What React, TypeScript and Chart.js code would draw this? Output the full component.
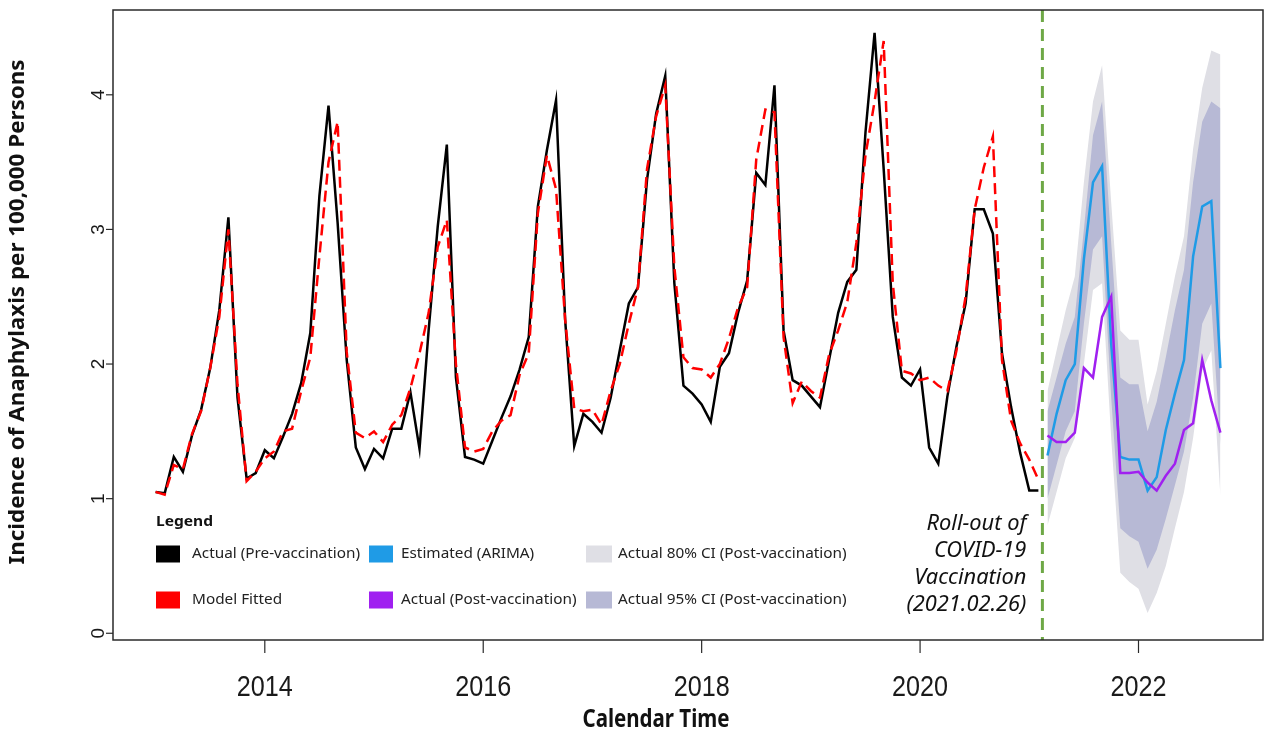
import React, { useEffect, useRef } from "react";
import { Chart, registerables } from "chart.js";

Chart.register(...registerables);

// ---- axis / time constants ----
const PRE_START_YEAR = 2013; // Jan 2013, monthly
const POST_START_YEAR = 2021 + 2 / 12; // Mar 2021, monthly
const ROLLOUT_X = 2021.12; // 2021.02.26 marker
const X_MIN = 2012.61;
const X_MAX = 2023.14;
const Y_MIN = -0.05;
const Y_MAX = 4.63;

const xTicks = [2014, 2016, 2018, 2020, 2022];
const yTicks = [0, 1, 2, 3, 4];

// ---- series (per 100,000 persons) ----
const actualPre = [
  1.05, 1.04, 1.31, 1.2, 1.47, 1.66, 1.97, 2.4, 3.09, 1.75, 1.15, 1.19,
  1.36, 1.3, 1.46, 1.63, 1.86, 2.23, 3.25, 3.92, 3.05, 2.03, 1.38, 1.22,
  1.37, 1.3, 1.52, 1.52, 1.79, 1.37, 2.25, 3.02, 3.63, 1.9, 1.31, 1.29,
  1.26, 1.43, 1.6, 1.76, 1.96, 2.2, 3.17, 3.59, 3.96, 2.33, 1.39, 1.63,
  1.57, 1.49, 1.75, 2.1, 2.45, 2.57, 3.37, 3.86, 4.14, 2.6, 1.84, 1.78,
  1.7, 1.57, 1.98, 2.08, 2.38, 2.62, 3.42, 3.33, 4.07, 2.25, 1.88, 1.84,
  1.76, 1.68, 2.03, 2.38, 2.61, 2.7, 3.72, 4.46, 3.45, 2.35, 1.9, 1.84,
  1.96, 1.38, 1.26, 1.76, 2.13, 2.45, 3.15, 3.15, 2.97, 2.08, 1.68, 1.34,
  1.06, 1.06,
];

const modelFitted = [
  1.05, 1.03, 1.25, 1.22, 1.48, 1.65, 1.97, 2.35, 3.0, 1.85, 1.13, 1.2,
  1.3, 1.35, 1.5, 1.52, 1.8, 2.05, 2.8, 3.5, 3.8, 2.09, 1.49, 1.45,
  1.5, 1.42, 1.55, 1.62, 1.82, 2.08, 2.38, 2.87, 3.07, 2.0, 1.38, 1.35,
  1.37, 1.5, 1.58, 1.62, 1.92, 2.08, 3.12, 3.55, 3.3, 2.33, 1.67, 1.65,
  1.66, 1.55, 1.8, 2.0, 2.3, 2.57, 3.45, 3.84, 4.07, 2.72, 2.05, 1.97,
  1.96, 1.9, 2.0, 2.19, 2.42, 2.57, 3.52, 3.89, 3.87, 2.2, 1.71, 1.87,
  1.8, 1.75, 2.07, 2.25, 2.46, 2.9, 3.55, 3.95, 4.4, 2.6, 1.95, 1.93,
  1.88, 1.9, 1.84, 1.8, 2.1, 2.5, 3.15, 3.46, 3.69, 2.03, 1.58, 1.41,
  1.29, 1.14,
];

const estimatedArima = [
  1.32, 1.63, 1.88, 2.0, 2.78, 3.35, 3.47, 2.15, 1.31, 1.29, 1.29, 1.06,
  1.16, 1.51, 1.78, 2.03, 2.8, 3.17, 3.21, 1.97,
];

const actualPost = [
  1.47, 1.42, 1.42, 1.49, 1.97, 1.9, 2.35, 2.5, 1.19, 1.19, 1.2, 1.12,
  1.06, 1.17, 1.26, 1.51, 1.56, 2.03, 1.73, 1.49,
];

// light grey band (legend: Actual 80% CI)
const ci80Upper = [
  1.8, 2.1, 2.4, 2.65, 3.35, 3.95, 4.22, 3.2, 2.25, 2.18, 2.18, 1.7,
  1.95, 2.3, 2.65, 2.95, 3.6, 4.05, 4.33, 4.3,
];
const ci80Lower = [
  0.8, 1.05, 1.3, 1.45, 2.0, 2.55, 2.6, 1.45, 0.45, 0.38, 0.33, 0.15,
  0.3, 0.5, 0.78, 1.05, 1.45, 1.95, 2.1, 1.02,
];
// lavender band (legend: Actual 95% CI)
const ci95Upper = [
  1.65, 1.9, 2.15, 2.35, 3.0, 3.7, 3.95, 2.9, 1.9, 1.85, 1.85, 1.5,
  1.72, 2.05, 2.4, 2.7, 3.35, 3.8, 3.95, 3.9,
];
const ci95Lower = [
  1.0, 1.25, 1.5, 1.65, 2.3, 2.85, 2.95, 1.75, 0.78, 0.72, 0.68, 0.48,
  0.62, 0.85, 1.1, 1.35, 1.75, 2.3, 2.45, 1.4,
];

const COLORS = {
  black: "#000000",
  red: "#ff0000",
  blue: "#1f9be6",
  purple: "#a020f0",
  light: "#dfdfe5",
  lavender: "#b7b9d5",
  green: "#6ea846",
  axis: "#2a2a2a",
};

const legendItems = [
  { label: "Actual (Pre-vaccination)", color: COLORS.black },
  { label: "Model Fitted", color: COLORS.red },
  { label: "Estimated (ARIMA)", color: COLORS.blue },
  { label: "Actual (Post-vaccination)", color: COLORS.purple },
  { label: "Actual 80% CI (Post-vaccination)", color: COLORS.light },
  { label: "Actual 95% CI (Post-vaccination)", color: COLORS.lavender },
];

const annotationLines = ["Roll-out of", "COVID-19", "Vaccination", "(2021.02.26)"];

const toPoints = (start: number, arr: number[]) =>
  arr.map((v, i) => ({ x: start + i / 12, y: v }));

function fitText(
  ctx: CanvasRenderingContext2D,
  text: string,
  x: number,
  y: number,
  font: string,
  color: string,
  align: CanvasTextAlign,
  sx: number
) {
  ctx.save();
  ctx.font = font;
  ctx.fillStyle = color;
  ctx.textBaseline = "middle";
  ctx.textAlign = align;
  ctx.translate(x, y);
  ctx.scale(sx, 1);
  ctx.fillText(text, 0, 0);
  ctx.restore();
}

function scaleFor(ctx: CanvasRenderingContext2D, font: string, text: string, target: number) {
  ctx.save();
  ctx.font = font;
  const w = ctx.measureText(text).width;
  ctx.restore();
  return w > 0 ? target / w : 1;
}

const decorPlugin = {
  id: "decor",
  afterDatasetsDraw(chart: any) {
    const { ctx, chartArea, scales } = chart;
    const gx = scales.x.getPixelForValue(ROLLOUT_X);
    ctx.save();
    ctx.strokeStyle = COLORS.green;
    ctx.lineWidth = 3;
    ctx.setLineDash([12, 7]);
    ctx.beginPath();
    ctx.moveTo(gx, chartArea.top);
    ctx.lineTo(gx, chartArea.bottom);
    ctx.stroke();
    ctx.restore();
  },
  afterDraw(chart: any) {
    const { ctx, chartArea, scales } = chart;
    const xs = scales.x;
    const ys = scales.y;
    const { left, right, top, bottom } = chartArea;

    // box
    ctx.save();
    ctx.strokeStyle = COLORS.axis;
    ctx.lineWidth = 1.5;
    ctx.strokeRect(left, top, right - left, bottom - top);

    // x ticks
    ctx.lineWidth = 1.2;
    const xFont = "29px 'Liberation Sans', Arial, sans-serif";
    const xsx = scaleFor(ctx, xFont, "2014", 56);
    xTicks.forEach((v) => {
      const px = xs.getPixelForValue(v);
      ctx.beginPath();
      ctx.moveTo(px, bottom);
      ctx.lineTo(px, bottom + 13);
      ctx.stroke();
      fitText(ctx, String(v), px, bottom + 48, xFont, "#1a1a1a", "center", xsx);
    });

    // y ticks
    yTicks.forEach((v) => {
      const py = ys.getPixelForValue(v);
      ctx.beginPath();
      ctx.moveTo(left, py);
      ctx.lineTo(left - 7, py);
      ctx.stroke();
      ctx.save();
      ctx.translate(left - 14, py);
      ctx.rotate(-Math.PI / 2);
      ctx.font = "19px 'Liberation Sans', Arial, sans-serif";
      ctx.fillStyle = "#1a1a1a";
      ctx.textAlign = "center";
      ctx.textBaseline = "middle";
      ctx.fillText(String(v), 0, 0);
      ctx.restore();
    });
    ctx.restore();

    // axis titles
    const xtFont = "bold 25px 'Noto Sans', sans-serif";
    fitText(ctx, "Calendar Time", 656, 720, xtFont, "#111", "center", scaleFor(ctx, xtFont, "Calendar Time", 147));

    const ytFont = "bold 21px 'Noto Sans', sans-serif";
    const yTitle = "Incidence of Anaphylaxis per 100,000 Persons";
    const ysx = scaleFor(ctx, ytFont, yTitle, 505);
    ctx.save();
    ctx.translate(18, 312);
    ctx.rotate(-Math.PI / 2);
    fitText(ctx, yTitle, 0, 0, ytFont, "#111", "center", ysx);
    ctx.restore();

    // legend
    const lgTitleFont = "bold 15px 'Noto Sans', sans-serif";
    fitText(ctx, "Legend", 156, 522, lgTitleFont, "#111", "left", scaleFor(ctx, lgTitleFont, "Legend", 57));
    const lgFont = "15px 'Noto Sans', sans-serif";
    const lgsx = scaleFor(ctx, lgFont, "Actual (Pre-vaccination)", 168);
    const colX = [156, 369, 586];
    const rowY = [554, 600];
    legendItems.forEach((it, i) => {
      const col = Math.floor(i / 2);
      const row = i % 2;
      const x0 = colX[col];
      const y0 = rowY[row];
      ctx.save();
      ctx.fillStyle = it.color;
      ctx.fillRect(x0, y0 - 8.5, col === 2 ? 26 : 24, 17);
      ctx.restore();
      fitText(ctx, it.label, x0 + (col === 0 ? 36 : 32), y0, lgFont, "#222", "left", lgsx);
    });

    // annotation
    const anFont = "italic 21px 'Noto Sans', sans-serif";
    const ansx = scaleFor(ctx, anFont, "(2021.02.26)", 120);
    const gx = xs.getPixelForValue(ROLLOUT_X);
    annotationLines.forEach((ln, i) => {
      fitText(ctx, ln, gx - 16, 524 + i * 27, anFont, "#111", "right", ansx);
    });
  },
};

export default function App() {
  const ref = useRef<HTMLCanvasElement | null>(null);

  useEffect(() => {
    if (!ref.current) return;
    const line = (data: any[], color: string, extra: any = {}) => ({
      data,
      borderColor: color,
      backgroundColor: color,
      borderWidth: 2.5,
      pointRadius: 0,
      tension: 0,
      fill: false,
      ...extra,
    });
    const band = (data: any[], fill: any, color: string) => ({
      data,
      borderWidth: 0,
      borderColor: "rgba(0,0,0,0)",
      backgroundColor: color,
      pointRadius: 0,
      tension: 0,
      fill,
    });

    const chart = new Chart(ref.current, {
      type: "line",
      data: {
        datasets: [
          line(toPoints(PRE_START_YEAR, modelFitted), COLORS.red, { borderDash: [11, 6], label: "Model Fitted" }),
          line(toPoints(PRE_START_YEAR, actualPre), COLORS.black, { label: "Actual (Pre-vaccination)" }),
          line(toPoints(POST_START_YEAR, actualPost), COLORS.purple, { label: "Actual (Post-vaccination)" }),
          line(toPoints(POST_START_YEAR, estimatedArima), COLORS.blue, { label: "Estimated (ARIMA)" }),
          band(toPoints(POST_START_YEAR, ci95Upper), "+1", COLORS.lavender),
          band(toPoints(POST_START_YEAR, ci95Lower), false, COLORS.lavender),
          band(toPoints(POST_START_YEAR, ci80Upper), "+1", COLORS.light),
          band(toPoints(POST_START_YEAR, ci80Lower), false, COLORS.light),
        ],
      },
      options: {
        responsive: false,
        animation: false,
        events: [],
        layout: { padding: { top: 10, right: 5, left: 0, bottom: 0 } },
        plugins: {
          legend: { display: false },
          tooltip: { enabled: false },
        },
        scales: {
          x: {
            type: "linear",
            min: X_MIN,
            max: X_MAX,
            grid: { display: false },
            border: { display: false },
            ticks: { display: false },
            afterFit: (s: any) => {
              s.height = 95;
            },
          },
          y: {
            type: "linear",
            min: Y_MIN,
            max: Y_MAX,
            grid: { display: false },
            border: { display: false },
            ticks: { display: false },
            afterFit: (s: any) => {
              s.width = 113;
            },
          },
        },
      } as any,
      plugins: [decorPlugin],
    });
    return () => chart.destroy();
  }, []);

  return (
    <div style={{ position: "absolute", left: 0, top: 0, width: 1268, height: 735, background: "#fff" }}>
      <canvas ref={ref} width={1268} height={735} style={{ display: "block" }} />
    </div>
  );
}
